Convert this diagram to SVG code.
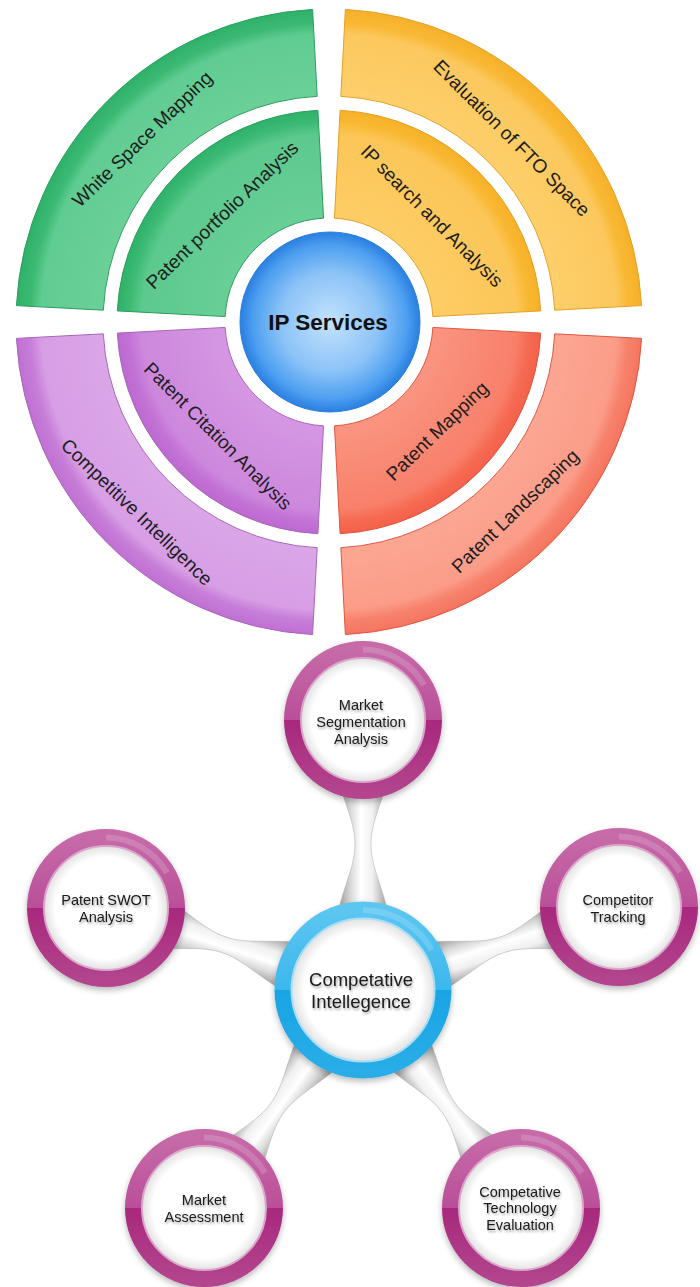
<svg xmlns="http://www.w3.org/2000/svg" width="700" height="1287" viewBox="0 0 700 1287">
<defs>
<style>
.lbl{font-family:"Liberation Sans",Arial,sans-serif;font-size:19px;fill:#1e1e1e;text-anchor:middle}
.sat{font-family:"Liberation Sans",Arial,sans-serif;font-size:14.5px;fill:#1a1a1a;text-anchor:middle}
.hubt{font-family:"Liberation Sans",Arial,sans-serif;font-size:18.5px;fill:#1a1a1a;text-anchor:middle}
.ipt{font-family:"Liberation Sans",Arial,sans-serif;font-size:22.5px;font-weight:bold;fill:#111;text-anchor:middle}
.g{stroke:#2a9e5e;stroke-width:1}
.o{stroke:#e3a126;stroke-width:1}
.r{stroke:#e0563f;stroke-width:1}
.p{stroke:#a866ba;stroke-width:1}
.ring{fill:none;stroke-width:17}
.gloss{fill:none;stroke:#ffffff;stroke-opacity:0.16;stroke-width:6}
</style>
<radialGradient id="gIn" gradientUnits="userSpaceOnUse" cx="329" cy="322" r="313">
<stop offset="0.33" stop-color="#68cf97"/><stop offset="0.60" stop-color="#5cc98d"/><stop offset="0.64" stop-color="#3bba73"/><stop offset="0.68" stop-color="#2db168"/>
</radialGradient>
<radialGradient id="gOut" gradientUnits="userSpaceOnUse" cx="329" cy="322" r="313">
<stop offset="0.72" stop-color="#6ad098"/><stop offset="0.92" stop-color="#60cc92"/><stop offset="0.955" stop-color="#3cba73"/><stop offset="1" stop-color="#2eb169"/>
</radialGradient>
<radialGradient id="oIn" gradientUnits="userSpaceOnUse" cx="329" cy="322" r="313">
<stop offset="0.33" stop-color="#fdcd66"/><stop offset="0.60" stop-color="#fcc658"/><stop offset="0.64" stop-color="#f9b832"/><stop offset="0.68" stop-color="#f6b028"/>
</radialGradient>
<radialGradient id="oOut" gradientUnits="userSpaceOnUse" cx="329" cy="322" r="313">
<stop offset="0.72" stop-color="#fdcf6a"/><stop offset="0.92" stop-color="#fcc85e"/><stop offset="0.955" stop-color="#f9b935"/><stop offset="1" stop-color="#f6b02a"/>
</radialGradient>
<radialGradient id="rIn" gradientUnits="userSpaceOnUse" cx="329" cy="322" r="313">
<stop offset="0.33" stop-color="#fa9581"/><stop offset="0.60" stop-color="#f8806a"/><stop offset="0.64" stop-color="#f66a52"/><stop offset="0.68" stop-color="#f4604a"/>
</radialGradient>
<radialGradient id="rOut" gradientUnits="userSpaceOnUse" cx="329" cy="322" r="313">
<stop offset="0.72" stop-color="#fca793"/><stop offset="0.92" stop-color="#fb9c88"/><stop offset="0.955" stop-color="#f7826c"/><stop offset="1" stop-color="#f5755f"/>
</radialGradient>
<radialGradient id="pIn" gradientUnits="userSpaceOnUse" cx="329" cy="322" r="313">
<stop offset="0.33" stop-color="#d597e3"/><stop offset="0.60" stop-color="#cd88dd"/><stop offset="0.64" stop-color="#c272d5"/><stop offset="0.68" stop-color="#bc68d0"/>
</radialGradient>
<radialGradient id="pOut" gradientUnits="userSpaceOnUse" cx="329" cy="322" r="313">
<stop offset="0.72" stop-color="#dba6e8"/><stop offset="0.92" stop-color="#d79ee5"/><stop offset="0.955" stop-color="#c77ed8"/><stop offset="1" stop-color="#c070d3"/>
</radialGradient>
<radialGradient id="ipG" cx="0.5" cy="0.5" r="0.5">
<stop offset="0" stop-color="#c3e2fd"/><stop offset="0.55" stop-color="#8cc3f7"/><stop offset="0.86" stop-color="#4b9ef0"/><stop offset="0.93" stop-color="#3a8ee8"/><stop offset="1" stop-color="#2b80df"/>
</radialGradient>
<linearGradient id="satRing" x1="0" y1="0" x2="0" y2="1">
<stop offset="0" stop-color="#c66aa8"/><stop offset="0.5" stop-color="#ba4f99"/><stop offset="0.5" stop-color="#a8287d"/><stop offset="1" stop-color="#b2448d"/>
</linearGradient>
<linearGradient id="hubRing" x1="0" y1="0" x2="0" y2="1">
<stop offset="0" stop-color="#5cc6f1"/><stop offset="0.5" stop-color="#3cb7ec"/><stop offset="0.5" stop-color="#19a5e4"/><stop offset="1" stop-color="#29ade6"/>
</linearGradient>
<radialGradient id="face" cx="0.5" cy="0.5" r="0.5">
<stop offset="0.82" stop-color="#ffffff"/><stop offset="1" stop-color="#e2e2e2"/>
</radialGradient>
<linearGradient id="neck" gradientUnits="userSpaceOnUse" x1="0" y1="-22" x2="0" y2="22">
<stop offset="0" stop-color="#a8a8a8"/><stop offset="0.22" stop-color="#d9d9d9"/><stop offset="0.45" stop-color="#ffffff"/><stop offset="0.72" stop-color="#f0f0f0"/><stop offset="1" stop-color="#ababab"/>
</linearGradient>
<filter id="sh" x="-20%" y="-20%" width="140%" height="140%">
<feDropShadow dx="0" dy="3" stdDeviation="3" flood-color="#000" flood-opacity="0.28"/>
</filter>
<filter id="tsh" x="-10%" y="-30%" width="120%" height="160%">
<feDropShadow dx="1" dy="2" stdDeviation="1.3" flood-color="#000" flood-opacity="0.35"/>
</filter>
<path id="neckShape" d="M 82,-24 C 112,-16 126,-8 146,-8 C 162,-8 174,-13 198,-21 L 198,21 C 174,13 162,8 146,8 C 126,8 112,16 82,24 Z"/>
</defs>
<rect width="700" height="1287" fill="#ffffff"/>

<!-- Top: IP services ring chart -->
<g id="white-space-mapping">
<path class="g" fill="url(#gOut)" d="M 16.43,305.62 A 313 313 0 0 1 312.62,9.43 L 317.17,96.31 A 226 226 0 0 0 103.31,310.17 Z"/>
<text class="lbl" dy="0.35em" transform="translate(142,139) rotate(-44)">White Space Mapping</text>
</g>
<g id="patent-portfolio-analysis">
<path class="g" fill="url(#gIn)" d="M 117.29,310.90 A 212 212 0 0 1 317.90,110.29 L 323.56,218.14 A 104 104 0 0 0 225.14,316.56 Z"/>
<text class="lbl" dy="0.35em" transform="translate(222,215) rotate(-44)">Patent portfolio Analysis</text>
</g>
<g id="evaluation-of-fto-space">
<path class="o" fill="url(#oOut)" d="M 345.38,9.43 A 313 313 0 0 1 641.57,305.62 L 554.69,310.17 A 226 226 0 0 0 340.83,96.31 Z"/>
<text class="lbl" dy="0.35em" transform="translate(512,138) rotate(45)">Evaluation of FTO Space</text>
</g>
<g id="ip-search-and-analysis">
<path class="o" fill="url(#oIn)" d="M 340.10,110.29 A 212 212 0 0 1 540.71,310.90 L 432.86,316.56 A 104 104 0 0 0 334.44,218.14 Z"/>
<text class="lbl" dy="0.35em" transform="translate(432,216) rotate(45)">IP search and Analysis</text>
</g>
<g id="patent-landscaping">
<path class="r" fill="url(#rOut)" d="M 641.57,338.38 A 313 313 0 0 1 345.38,634.57 L 340.83,547.69 A 226 226 0 0 0 554.69,333.83 Z"/>
<text class="lbl" dy="0.35em" transform="translate(515,511) rotate(-44)">Patent Landscaping</text>
</g>
<g id="patent-mapping">
<path class="r" fill="url(#rIn)" d="M 540.71,333.10 A 212 212 0 0 1 340.10,533.71 L 334.44,425.86 A 104 104 0 0 0 432.86,327.44 Z"/>
<text class="lbl" dy="0.35em" transform="translate(437,431) rotate(-44)">Patent Mapping</text>
</g>
<g id="competitive-intelligence">
<path class="p" fill="url(#pOut)" d="M 312.62,634.57 A 313 313 0 0 1 16.43,338.38 L 103.31,333.83 A 226 226 0 0 0 317.17,547.69 Z"/>
<text class="lbl" dy="0.35em" transform="translate(137,512) rotate(44)">Competitive Intelligence</text>
</g>
<g id="patent-citation-analysis">
<path class="p" fill="url(#pIn)" d="M 317.90,533.71 A 212 212 0 0 1 117.29,333.10 L 225.14,327.44 A 104 104 0 0 0 323.56,425.86 Z"/>
<text class="lbl" dy="0.35em" transform="translate(218,436) rotate(45)">Patent Citation Analysis</text>
</g>
<g id="ip-services">
<circle cx="330" cy="322" r="90" fill="url(#ipG)" stroke="#2c7fdc" stroke-width="1"/>
<text class="ipt" x="328" y="330">IP Services</text>
</g>

<!-- Bottom: competitive intelligence hub -->
<g id="connectors">
<use href="#neckShape" fill="url(#neck)" stroke="#b5b5b5" stroke-width="0.6" transform="translate(363,990) rotate(-90)"/>
<use href="#neckShape" fill="url(#neck)" stroke="#b5b5b5" stroke-width="0.6" transform="translate(363,990) rotate(-18)"/>
<use href="#neckShape" fill="url(#neck)" stroke="#b5b5b5" stroke-width="0.6" transform="translate(363,990) rotate(54)"/>
<use href="#neckShape" fill="url(#neck)" stroke="#b5b5b5" stroke-width="0.6" transform="translate(363,990) rotate(126)"/>
<use href="#neckShape" fill="url(#neck)" stroke="#b5b5b5" stroke-width="0.6" transform="translate(363,990) rotate(198)"/>
</g>

<g id="market-segmentation-analysis">
<circle cx="363" cy="720" r="70.5" class="ring" stroke="url(#satRing)" filter="url(#sh)"/>
<circle cx="363" cy="720" r="62" fill="url(#face)" stroke="#dca6cb" stroke-width="2"/>
<path class="gloss" d="M 363,649.5 A 70.5 70.5 0 0 1 424,685"/>
<g filter="url(#tsh)">
<text class="sat" x="361" y="710">Market</text>
<text class="sat" x="361" y="727">Segmentation</text>
<text class="sat" x="361" y="744">Analysis</text>
</g>
</g>

<g id="competitor-tracking">
<circle cx="619" cy="907" r="70.5" class="ring" stroke="url(#satRing)" filter="url(#sh)"/>
<circle cx="619" cy="907" r="62" fill="url(#face)" stroke="#dca6cb" stroke-width="2"/>
<path class="gloss" d="M 619,836.5 A 70.5 70.5 0 0 1 680,872"/>
<g filter="url(#tsh)">
<text class="sat" x="618" y="905">Competitor</text>
<text class="sat" x="618" y="922">Tracking</text>
</g>
</g>

<g id="competative-technology-evaluation">
<circle cx="521" cy="1208" r="70.5" class="ring" stroke="url(#satRing)" filter="url(#sh)"/>
<circle cx="521" cy="1208" r="62" fill="url(#face)" stroke="#dca6cb" stroke-width="2"/>
<path class="gloss" d="M 521,1137.5 A 70.5 70.5 0 0 1 582,1173"/>
<g filter="url(#tsh)">
<text class="sat" x="520" y="1197">Competative</text>
<text class="sat" x="520" y="1213">Technology</text>
<text class="sat" x="520" y="1230">Evaluation</text>
</g>
</g>

<g id="market-assessment">
<circle cx="204" cy="1208" r="70.5" class="ring" stroke="url(#satRing)" filter="url(#sh)"/>
<circle cx="204" cy="1208" r="62" fill="url(#face)" stroke="#dca6cb" stroke-width="2"/>
<path class="gloss" d="M 204,1137.5 A 70.5 70.5 0 0 1 265,1173"/>
<g filter="url(#tsh)">
<text class="sat" x="204" y="1205">Market</text>
<text class="sat" x="204" y="1222">Assessment</text>
</g>
</g>

<g id="patent-swot-analysis">
<circle cx="106" cy="908" r="70.5" class="ring" stroke="url(#satRing)" filter="url(#sh)"/>
<circle cx="106" cy="908" r="62" fill="url(#face)" stroke="#dca6cb" stroke-width="2"/>
<path class="gloss" d="M 106,837.5 A 70.5 70.5 0 0 1 167,873"/>
<g filter="url(#tsh)">
<text class="sat" x="106" y="905">Patent SWOT</text>
<text class="sat" x="106" y="922">Analysis</text>
</g>
</g>

<g id="competative-intellegence">
<circle cx="363" cy="990" r="80" class="ring" stroke="url(#hubRing)" filter="url(#sh)"/>
<circle cx="363" cy="990" r="71.5" fill="url(#face)" stroke="#a9def5" stroke-width="2"/>
<path class="gloss" d="M 363,910 A 80 80 0 0 1 432,950"/>
<g filter="url(#tsh)">
<text class="hubt" x="361" y="986">Competative</text>
<text class="hubt" x="361" y="1008">Intellegence</text>
</g>
</g>
</svg>
